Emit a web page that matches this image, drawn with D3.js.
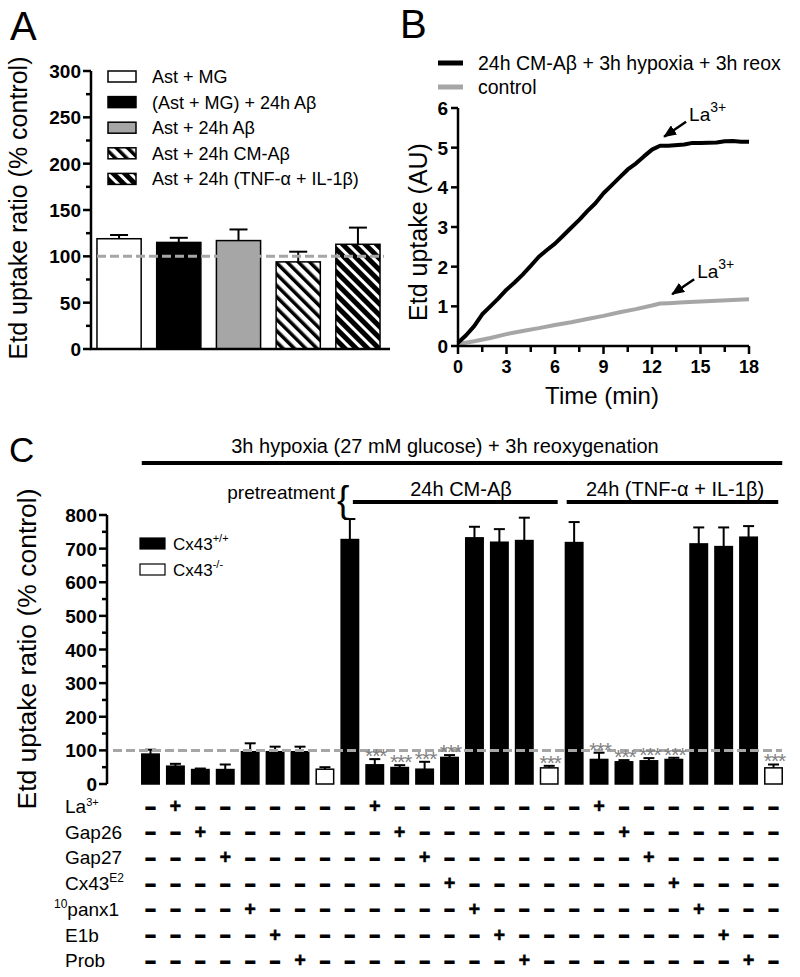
<!DOCTYPE html>
<html><head><meta charset="utf-8">
<script src="https://cdn.jsdelivr.net/npm/d3@7"></script>
<style>
body{margin:0;background:#fff}
text{font-family:"Liberation Sans",Arial,Helvetica,sans-serif;fill:#000}
</style>
</head><body>
<svg id="fig" width="800" height="977"></svg>
<script>
// ---------------- Panel A data ----------------
const aCategories = ["Ast + MG", "(Ast + MG) + 24h Aβ", "Ast + 24h Aβ", "Ast + 24h CM-Aβ", "Ast + 24h (TNF-α + IL-1β)"];
const aMeans = [119, 115, 117, 94, 113];
const aErrors = [4, 5, 12, 11, 18];
const aTicks = [0, 50, 100, 150, 200, 250, 300];

// ---------------- Panel B data ----------------
const bSeries = ["24h CM-Aβ + 3h hypoxia + 3h reox", "control"];
const bTimeTreated = [0, 0.5, 1, 1.5, 2, 2.5, 3, 3.5, 4, 4.5, 5, 5.5, 6, 6.5, 7, 7.5, 8, 8.5, 9, 9.5, 10, 10.5, 11, 11.5, 12, 12.5, 13, 14, 14.5, 15, 16, 16.5, 17, 17.5, 18];
const bTreated = [0.08, 0.27, 0.5, 0.8, 1.0, 1.2, 1.42, 1.6, 1.8, 2.02, 2.25, 2.42, 2.58, 2.78, 2.98, 3.18, 3.4, 3.6, 3.85, 4.05, 4.25, 4.45, 4.6, 4.78, 4.95, 5.05, 5.05, 5.08, 5.12, 5.12, 5.13, 5.16, 5.17, 5.15, 5.15];
const bTimeControl = [0, 1, 2, 3, 4, 5, 6, 7, 8, 9, 10, 11, 12, 12.5, 13, 14, 15, 16, 17, 18];
const bControl = [0.05, 0.12, 0.2, 0.3, 0.38, 0.45, 0.53, 0.6, 0.68, 0.76, 0.85, 0.93, 1.02, 1.07, 1.08, 1.1, 1.12, 1.14, 1.16, 1.18];
const bXTicks = [0, 3, 6, 9, 12, 15, 18];
const bYTicks = [0, 1, 2, 3, 4, 5, 6];
const bLaTimes = [12.5, 13];       // La3+ addition (treated, control)
const bLaLevels = [5.05, 1.08];    // uptake at La3+ addition

// ---------------- Panel C data ----------------
const cColumns = d3.range(1, 27);
const cGenotype = ["wt","wt","wt","wt","wt","wt","wt","ko",
                   "wt","wt","wt","wt","wt","wt","wt","wt","ko",
                   "wt","wt","wt","wt","wt","wt","wt","wt","ko"];
const cMeans = [89, 53, 43, 43, 96, 96, 96, 44,
                727, 57, 49, 44, 79, 732, 719, 724, 48,
                718, 73, 66, 69, 73, 714, 706, 734, 48];
const cErrors = [13, 7, 3, 15, 25, 15, 15, 6,
                 61, 17, 7, 22, 7, 33, 39, 68, 6,
                 61, 20, 5, 8, 5, 49, 57, 33, 10];
const cSignificant = [0,0,0,0,0,0,0,0, 0,1,1,1,1,0,0,0,1, 0,1,1,1,1,0,0,0,1];
const cTreatmentRows = ["La", "Gap26", "Gap27", "Cx43E2", "panx1", "E1b", "Prob"];
const cTreatmentOf = ["", "La", "Gap26", "Gap27", "panx1", "E1b", "Prob", "",
                      "", "La", "Gap26", "Gap27", "Cx43E2", "panx1", "E1b", "Prob", "",
                      "", "La", "Gap26", "Gap27", "Cx43E2", "panx1", "E1b", "Prob", ""];
const cTicks = [0, 100, 200, 300, 400, 500, 600, 700, 800];

// ======================================================
const svg = d3.select("#fig");
const GRAY = "#a6a6a6";
const defs = svg.append("defs");
const pW = defs.append("pattern").attr("id","hatchW").attr("patternUnits","userSpaceOnUse")
  .attr("width",8).attr("height",8).attr("patternTransform","rotate(-45)");
pW.append("rect").attr("width",8).attr("height",8).attr("fill","#fff");
pW.append("rect").attr("x",0).attr("width",3.5).attr("height",8).attr("fill","#000");
const pB = defs.append("pattern").attr("id","hatchB").attr("patternUnits","userSpaceOnUse")
  .attr("width",8).attr("height",8).attr("patternTransform","rotate(-45)");
pB.append("rect").attr("width",8).attr("height",8).attr("fill","#000");
pB.append("rect").attr("x",0).attr("width",3).attr("height",8).attr("fill","#fff");
defs.append("marker").attr("id","arr").attr("viewBox","0 0 13 11").attr("refX",12).attr("refY",5.5)
  .attr("markerWidth",13).attr("markerHeight",11).attr("markerUnits","userSpaceOnUse").attr("orient","auto")
  .append("path").attr("d","M0,0 L13,5.5 L0,11 Z").attr("fill","#000");

const aFill = ["#fff", "#000", GRAY, "url(#hatchW)", "url(#hatchB)"];

function panelLabel(t, x, y, fs) {
  svg.append("text").attr("x", x).attr("y", y).attr("font-size", fs).text(t);
}

function yAxisManual(g, scale, x, ticks, minorTicks, fs) {
  g.append("line").attr("x1", x).attr("x2", x).attr("y1", scale(ticks[ticks.length-1])).attr("y2", scale(ticks[0]))
    .attr("stroke","#000").attr("stroke-width",2.5);
  ticks.forEach(t => {
    g.append("line").attr("x1", x-8).attr("x2", x).attr("y1", scale(t)).attr("y2", scale(t)).attr("stroke","#000").attr("stroke-width",2.5);
    g.append("text").attr("x", x-10).attr("y", scale(t)+7).attr("text-anchor","end")
      .attr("font-size", fs).attr("font-weight","bold").text(t);
  });
  minorTicks.forEach(t => {
    g.append("line").attr("x1", x-5).attr("x2", x).attr("y1", scale(t)).attr("y2", scale(t)).attr("stroke","#000").attr("stroke-width",2.5);
  });
}

// ================= Panel A =================
panelLabel("A", 10, 40, 40);
const gA = svg.append("g");
const yA = d3.scaleLinear().domain([0, 300]).range([349, 71]);
const xA = d3.scaleBand().domain(aCategories).range([91, 386]).paddingInner(0.26).paddingOuter(0.1);
aCategories.forEach((c, i) => {
  gA.append("rect").attr("x", xA(c)).attr("y", yA(aMeans[i])).attr("width", xA.bandwidth())
    .attr("height", yA(0) - yA(aMeans[i])).attr("fill", aFill[i]).attr("stroke","#000").attr("stroke-width",1.5);
  const cx = xA(c) + xA.bandwidth()/2;
  gA.append("line").attr("x1",cx).attr("x2",cx).attr("y1",yA(aMeans[i])).attr("y2",yA(aMeans[i]+aErrors[i])).attr("stroke","#000").attr("stroke-width",2);
  gA.append("line").attr("x1",cx-9).attr("x2",cx+9).attr("y1",yA(aMeans[i]+aErrors[i])).attr("y2",yA(aMeans[i]+aErrors[i])).attr("stroke","#000").attr("stroke-width",2);
});
gA.append("line").attr("x1", 97).attr("x2", 384).attr("y1", yA(100)).attr("y2", yA(100))
  .attr("stroke", GRAY).attr("stroke-width", 3).attr("stroke-dasharray","9,4");
yAxisManual(gA, yA, 91, aTicks, [25,75,125,175,225,275], 19);
gA.append("line").attr("x1", 90).attr("x2", 390).attr("y1", yA(0)).attr("y2", yA(0)).attr("stroke","#000").attr("stroke-width",2.5);
gA.append("text").attr("transform", `translate(27,${208}) rotate(-90)`).attr("text-anchor","middle")
  .attr("font-size", 25).text("Etd uptake ratio (% control)");
aCategories.forEach((c, i) => {
  const cy = 76.5 + i*25.6;
  gA.append("rect").attr("x",108).attr("y",cy-5.5).attr("width",28).attr("height",11)
    .attr("fill", aFill[i]).attr("stroke","#000").attr("stroke-width",1.5);
  gA.append("text").attr("x",152).attr("y",cy+6.5).attr("font-size",18).text(c);
});

// ================= Panel B =================
panelLabel("B", 400, 38, 40);
const gB = svg.append("g");
const xB = d3.scaleLinear().domain([0, 18]).range([458, 749]);
const yB = d3.scaleLinear().domain([0, 6]).range([346, 108]);
const line = d3.line().x(d => xB(d[0])).y(d => yB(d[1])).curve(d3.curveLinear);
gB.append("path").datum(bTimeControl.map((t,i)=>[t,bControl[i]])).attr("d", line)
  .attr("fill","none").attr("stroke",GRAY).attr("stroke-width",4).attr("stroke-linejoin","round");
gB.append("path").datum(bTimeTreated.map((t,i)=>[t,bTreated[i]])).attr("d", line)
  .attr("fill","none").attr("stroke","#000").attr("stroke-width",4).attr("stroke-linejoin","round");
gB.append("line").attr("x1",xB(0)).attr("x2",xB(0)).attr("y1",yB(6)).attr("y2",yB(0)).attr("stroke","#000").attr("stroke-width",2.5);
gB.append("line").attr("x1",xB(0)-1).attr("x2",xB(18)).attr("y1",yB(0)).attr("y2",yB(0)).attr("stroke","#000").attr("stroke-width",2.5);
bYTicks.forEach(t => {
  gB.append("line").attr("x1",xB(0)-7).attr("x2",xB(0)).attr("y1",yB(t)).attr("y2",yB(t)).attr("stroke","#000").attr("stroke-width",2.5);
  gB.append("text").attr("x",xB(0)-10).attr("y",yB(t)+7).attr("text-anchor","end").attr("font-size",19).attr("font-weight","bold").text(t);
});
d3.range(0, 18.01, 1.5).forEach(t => {
  const major = bXTicks.includes(t);
  gB.append("line").attr("x1",xB(t)).attr("x2",xB(t)).attr("y1",yB(0)).attr("y2",yB(0)+(major?8:6)).attr("stroke","#000").attr("stroke-width",2.5);
});
bXTicks.forEach(t => {
  gB.append("text").attr("x",xB(t)).attr("y",373).attr("text-anchor","middle").attr("font-size",18).attr("font-weight","bold").text(t);
});
gB.append("text").attr("x",602).attr("y",404).attr("text-anchor","middle").attr("font-size",24).text("Time (min)");
gB.append("text").attr("transform",`translate(427,232) rotate(-90)`).attr("text-anchor","middle").attr("font-size",25).text("Etd uptake (AU)");
[["#000",63],[GRAY,87]].forEach((d,i) => {
  gB.append("line").attr("x1",438).attr("x2",463).attr("y1",d[1]).attr("y2",d[1]).attr("stroke",d[0]).attr("stroke-width",5);
  gB.append("text").attr("x",478).attr("y",d[1]+7).attr("font-size",19.5).text(bSeries[i]);
});
bLaTimes.forEach((t, i) => {
  const px = xB(t), py = yB(bLaLevels[i]);
  gB.append("line").attr("x1", px+26).attr("x2", px+4).attr("y1", py-24).attr("y2", py-9)
    .attr("stroke","#000").attr("stroke-width",2.5).attr("marker-end","url(#arr)");
  const tx = gB.append("text").attr("x", px+29).attr("y", py-25).attr("font-size", 19);
  tx.append("tspan").text("La");
  tx.append("tspan").attr("dy", -9).attr("font-size", 14).text("3+");
});

// ================= Panel C =================
panelLabel("C", 9, 462, 35);
const gC = svg.append("g");
const yC = d3.scaleLinear().domain([0, 800]).range([784, 515]);
const xC = d3.scaleBand().domain(cColumns).range([134.3, 789.7]).paddingInner(0.3).paddingOuter(0.3);
const bw = xC.bandwidth();
const cx = c => xC(c) + bw/2;

gC.append("text").attr("x",445).attr("y",453).attr("text-anchor","middle").attr("font-size",20)
  .text("3h hypoxia (27 mM glucose) + 3h reoxygenation");
gC.append("line").attr("x1",xC(1)).attr("x2",xC(26)+bw).attr("y1",463).attr("y2",463).attr("stroke","#000").attr("stroke-width",4);
gC.append("text").attr("x",335).attr("y",499).attr("text-anchor","end").attr("font-size",19).text("pretreatment");
gC.append("text").attr("x",337).attr("y",512).attr("font-size",37).attr("font-weight","300").text("{");
const g1a = cx(9)+3, g1b = (cx(17)+cx(18))/2 - 4, g2a = g1b + 9, g2b = xC(26)+bw-4;
gC.append("line").attr("x1",g1a).attr("x2",g1b).attr("y1",502).attr("y2",502).attr("stroke","#000").attr("stroke-width",4);
gC.append("line").attr("x1",g2a).attr("x2",g2b).attr("y1",502).attr("y2",502).attr("stroke","#000").attr("stroke-width",4);
gC.append("text").attr("x",461).attr("y",496).attr("text-anchor","middle").attr("font-size",20).text("24h CM-Aβ");
gC.append("text").attr("x",675).attr("y",496).attr("text-anchor","middle").attr("font-size",20).text("24h (TNF-α + IL-1β)");

cColumns.forEach((c, i) => {
  const m = cMeans[i], e = cErrors[i];
  gC.append("line").attr("x1",cx(c)).attr("x2",cx(c)).attr("y1",yC(m)).attr("y2",yC(m+e)).attr("stroke","#000").attr("stroke-width",2);
  gC.append("line").attr("x1",cx(c)-5.5).attr("x2",cx(c)+5.5).attr("y1",yC(m+e)).attr("y2",yC(m+e)).attr("stroke","#000").attr("stroke-width",2);
  gC.append("rect").attr("x",xC(c)).attr("y",yC(m)).attr("width",bw).attr("height",yC(0)-yC(m))
    .attr("fill", cGenotype[i]==="wt" ? "#000" : "#fff").attr("stroke","#000").attr("stroke-width",1.5);
});
gC.append("line").attr("x1",113).attr("x2",782).attr("y1",yC(100)).attr("y2",yC(100))
  .attr("stroke",GRAY).attr("stroke-width",3).attr("stroke-dasharray","9,4");
cColumns.forEach((c, i) => {
  if (!cSignificant[i]) return;
  gC.append("text").attr("x",cx(c)+1).attr("y",yC(cMeans[i]+cErrors[i])+4).attr("text-anchor","middle")
    .attr("font-size",21).attr("letter-spacing",-1).style("fill","#808080").text("***");
});
yAxisManual(gC, yC, 107, cTicks, [50,150,250,350,450,550,650,750], 19);
gC.append("text").attr("transform",`translate(36,649) rotate(-90)`).attr("text-anchor","middle").attr("font-size",26.5)
  .text("Etd uptake ratio (% control)");
[["#000","+/+",543.5],["#fff","-/-",569.5]].forEach(d => {
  gC.append("rect").attr("x",140).attr("y",d[2]-5.5).attr("width",25).attr("height",11).attr("fill",d[0]).attr("stroke","#000").attr("stroke-width",1.2);
  const t = gC.append("text").attr("x",173).attr("y",d[2]+6).attr("font-size",17);
  t.append("tspan").text("Cx43");
  t.append("tspan").attr("dy",-8).attr("font-size",11).text(d[1]);
});
const rowY = r => 806 + r*25.7;
cTreatmentRows.forEach((row, r) => {
  const y = rowY(r);
  let lab;
  if (row === "La") {
    lab = gC.append("text").attr("x",65).attr("y",y+7).attr("font-size",19);
    lab.append("tspan").text("La");
    lab.append("tspan").attr("dy",-7).attr("font-size",11).text("3+");
  } else if (row === "Cx43E2") {
    lab = gC.append("text").attr("x",65).attr("y",y+7).attr("font-size",19);
    lab.append("tspan").text("Cx43");
    lab.append("tspan").attr("dy",-8).attr("font-size",12).text("E2");
  } else if (row === "panx1") {
    lab = gC.append("text").attr("x",54).attr("y",y+7).attr("font-size",19);
    lab.append("tspan").attr("dy",-8).attr("font-size",12).text("10");
    lab.append("tspan").attr("dy",8).text("panx1");
  } else {
    gC.append("text").attr("x",65).attr("y",y+7).attr("font-size",19).text(row);
  }
  cColumns.forEach((c, i) => {
    const plus = cTreatmentOf[i] === row;
    gC.append("text").attr("x",cx(c)).attr("y",y+(plus?7:6.5)).attr("text-anchor","middle")
      .attr("font-size",plus?20:17).attr("font-weight","bold")
      .attr("stroke","#000").attr("stroke-width", plus ? 0.4 : 1.8)
      .text(plus ? "+" : "–");
  });
});
</script>
</body></html>
